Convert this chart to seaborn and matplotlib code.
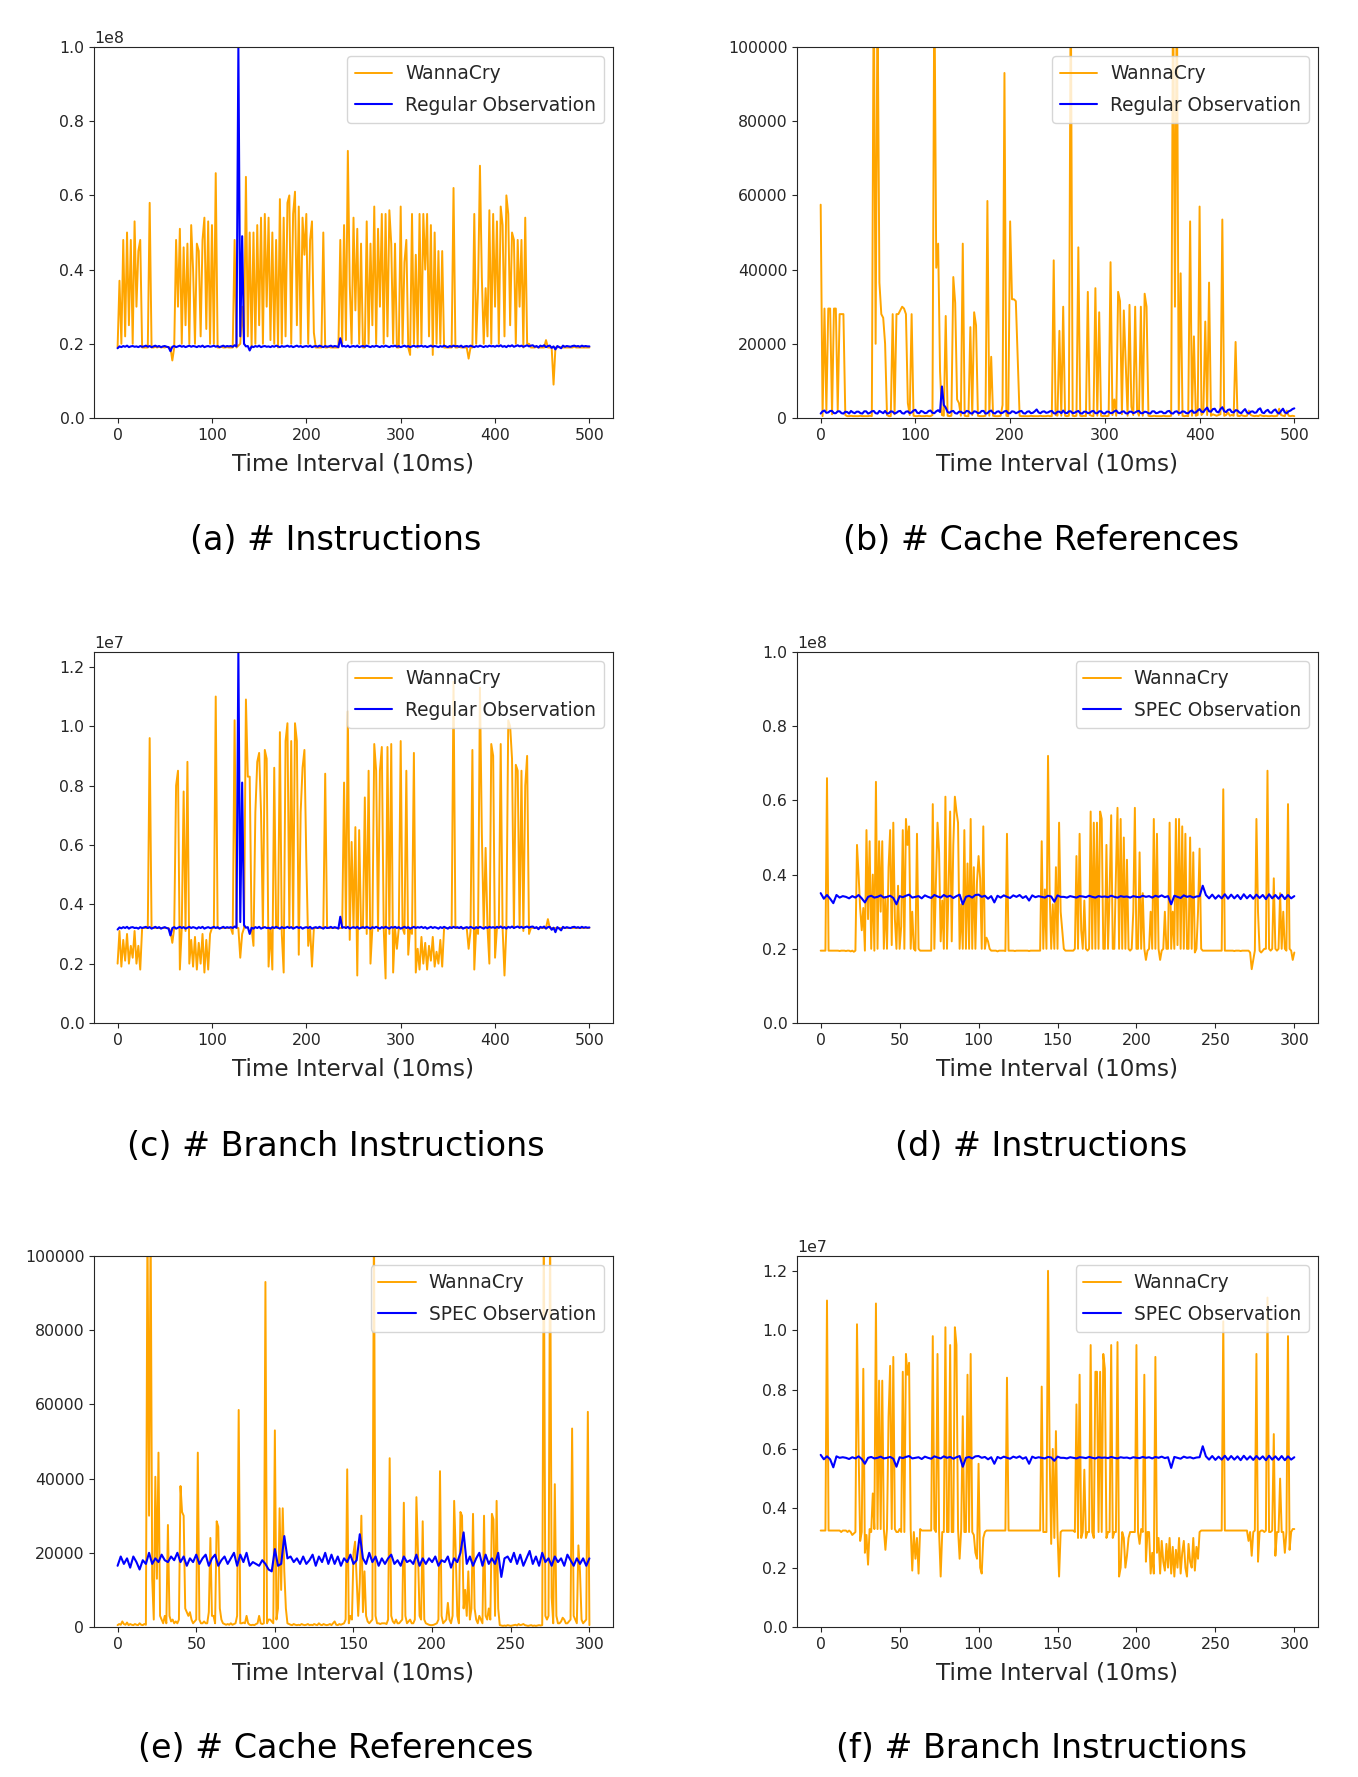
import matplotlib
matplotlib.use("Agg")
import matplotlib.pyplot as plt
import numpy as np
import seaborn as sns

# time index, in 10 ms intervals
t_long = np.arange(0, 501, 2)
t_short = np.arange(0, 301, 1)
t_short_ref = np.arange(0, 301, 2)

# (a) instructions, WannaCry vs regular, in millions
a_wannacry = [
    19, 37, 20, 48, 22, 50, 25, 48, 20, 53,
    30, 45, 48, 19, 19, 19, 19, 58, 19, 19,
    19.2, 19, 19.3, 19, 19.1, 19, 19.2, 19, 19, 15.5,
    19, 48, 30, 51, 20, 46, 25, 47, 20, 52,
    40, 20, 47, 45, 22, 48, 54, 24, 53, 20,
    52, 20, 66, 19, 19, 19.2, 19, 19, 19.1, 19,
    19, 19, 48, 19, 19.5, 20, 30, 20, 65, 22,
    50, 19, 50, 20, 52, 25, 54, 20, 55, 30,
    54, 21, 50, 20, 48, 19, 59, 20, 54, 22,
    58, 60, 20, 55, 61, 25, 57, 20, 54, 44,
    55, 20, 48, 53, 23, 19, 19, 19, 19, 50,
    19, 19, 19.2, 19, 19, 19, 19, 19, 48, 20,
    52, 21, 72, 36, 20, 54, 29, 51, 20, 47,
    19, 19, 53, 20, 47, 25, 57, 20, 51, 30,
    55, 20, 55, 22, 56, 47, 20, 47, 19, 19,
    57, 20, 42, 48, 19, 17, 55, 20, 44, 19,
    55, 20, 55, 40, 55, 22, 52, 17, 50, 20,
    45, 20, 45, 19, 19, 19, 19, 19, 62, 19,
    19, 19.2, 19, 19, 19, 19, 16, 19, 19, 55,
    20, 35, 68, 38, 20, 35, 22, 56, 20, 55,
    30, 53, 20, 57, 52, 22, 60, 55, 25, 50,
    48, 20, 48, 30, 48, 19, 54, 20, 20, 19,
    19, 19, 19.2, 19, 19, 19, 19, 21, 19, 19,
    19, 9, 19, 19, 19.2, 19, 19, 19, 19, 19,
    19, 19, 19.2, 19, 19, 19, 19, 19, 19, 19,
    19,
]
a_regular = [
    18.8, 19.3, 19.1, 19.4, 19.2, 19.5, 19.1, 19.3, 19.4, 19.2,
    19.3, 19.1, 19.4, 19.2, 19.3, 19.5, 19.2, 19.4, 19.1, 19.3,
    19.5, 19.2, 19.4, 19.1, 19.3, 19.4, 19.2, 19.1, 18.0, 19.2,
    19.4, 19.1, 19.3, 19.5, 19.2, 19.4, 19.1, 19.3, 19.5, 19.2,
    19.4, 19.3, 19.1, 19.4, 19.2, 19.5, 19.1, 19.3, 19.4, 19.2,
    19.3, 19.5, 19.2, 19.4, 19.1, 19.3, 19.5, 19.2, 19.4, 19.3,
    19.4, 19.2, 19.6, 19.3, 100, 22, 49, 20, 19.3, 19.4,
    18.2, 19.3, 19.1, 19.4, 19.2, 19.5, 19.1, 19.3, 19.4, 19.2,
    19.3, 19.1, 19.4, 19.2, 19.5, 19.3, 19.1, 19.4, 19.2, 19.3,
    19.5, 19.2, 19.4, 19.1, 19.3, 19.5, 19.2, 19.4, 19.1, 19.3,
    19.4, 19.2, 19.5, 19.1, 19.3, 19.4, 19.2, 19.5, 19.3, 19.1,
    19.4, 19.2, 19.3, 19.5, 19.2, 19.4, 19.3, 19.1, 21.5, 19.3,
    19.4, 19.2, 19.5, 19.1, 19.3, 19.4, 19.2, 19.5, 19.1, 19.3,
    19.4, 19.2, 19.5, 19.3, 19.1, 19.4, 19.2, 19.5, 19.3, 19.1,
    19.4, 19.2, 19.5, 19.3, 19.1, 19.4, 19.3, 19.5, 19.2, 19.4,
    19.1, 19.3, 19.5, 19.2, 19.4, 19.1, 19.3, 19.5, 19.2, 19.4,
    19.3, 19.5, 19.2, 19.4, 19.1, 19.3, 19.5, 19.2, 19.4, 19.3,
    19.1, 19.4, 19.2, 19.5, 19.3, 19.1, 19.4, 19.2, 19.5, 19.3,
    19.4, 19.2, 19.5, 19.1, 19.3, 19.4, 19.2, 19.5, 19.3, 19.1,
    19.4, 19.2, 19.5, 19.3, 19.1, 19.4, 19.2, 19.5, 19.3, 19.4,
    19.2, 19.5, 19.3, 19.6, 19.2, 19.4, 19.1, 19.5, 19.3, 19.6,
    19.2, 19.4, 19.6, 19.3, 19.5, 19.2, 19.4, 19.6, 19.3, 19.5,
    19.6, 19.2, 19.4, 19.0, 19.5, 19.3, 19.6, 19.1, 19.4, 19.5,
    18.9, 19.3, 18.5, 19.4, 19.1, 18.8, 19.5, 19.2, 19.4, 19.3,
    19.2, 19.4, 19.5, 19.3, 19.4, 19.2, 19.5, 19.3, 19.4, 19.3,
    19.3,
]

# (b) cache references, WannaCry vs regular, in thousands
b_wannacry = [
    57.5, 0.5, 29.5, 2, 29.5, 29.5, 1, 29.5, 29.5, 2,
    28, 28, 28, 0.8, 0.5, 0.5, 0.6, 0.5, 0.5, 0.5,
    0.5, 0.6, 0.5, 0.5, 0.5, 0.5, 0.6, 0.5, 120, 20,
    115, 36.5, 28, 27, 20, 0.8, 0.5, 0.5, 28, 1,
    28, 28, 29, 30, 29.5, 28, 4, 0.8, 28, 0.6,
    0.5, 0.5, 0.6, 0.5, 0.5, 0.5, 0.6, 0.5, 0.5, 0.8,
    120, 40.5, 47, 12.6, 0.8, 0.6, 27.5, 0.6, 0.5, 0.6,
    38, 31, 5, 4, 0.6, 47, 0.6, 0.5, 0.5, 24.5,
    0.8, 28.5, 25, 0.6, 0.5, 0.5, 0.5, 0.6, 58.5, 0.6,
    16.5, 0.6, 0.5, 0.5, 0.5, 0.6, 3.5, 93, 0.6, 0.5,
    53, 32, 32, 31.5, 16, 0.6, 0.5, 0.5, 0.5, 0.5,
    0.5, 0.6, 0.5, 0.5, 0.5, 0.5, 0.6, 0.5, 0.5, 0.5,
    0.6, 0.5, 0.5, 42.5, 0.8, 0.6, 23.5, 0.6, 30, 0.6,
    0.5, 0.6, 120, 0.6, 0.5, 0.6, 46, 0.6, 0.5, 0.6,
    0.5, 34, 0.8, 0.6, 0.5, 35, 0.6, 28.5, 0.6, 0.5,
    0.6, 0.5, 0.6, 42, 0.8, 5, 0.6, 34, 31.5, 1,
    29, 15, 0.6, 30.5, 3, 0.8, 30, 2, 0.6, 30,
    0.6, 33.5, 30, 0.6, 0.5, 0.5, 0.6, 0.5, 0.5, 0.5,
    0.5, 0.6, 0.5, 0.5, 0.5, 0.6, 120, 30, 120, 0.8,
    39, 0.6, 0.5, 0.6, 0.5, 53, 0.6, 22, 0.6, 0.8,
    57, 0.8, 1.5, 26, 0.8, 36.5, 0.6, 1, 0.8, 0.6,
    0.8, 1, 53.5, 0.6, 0.8, 1.5, 0.6, 0.8, 0.6, 20.5,
    0.6, 0.5, 0.8, 0.6, 0.5, 0.6, 2, 0.8, 0.6, 0.5,
    0.6, 0.5, 0.8, 0.6, 0.5, 0.6, 0.5, 0.5, 0.6, 0.5,
    0.5, 0.6, 2.5, 0.8, 0.6, 0.5, 2, 0.6, 0.5, 0.6,
    0.5,
]
b_regular = [
    1.2, 1.8, 2.0, 1.4, 1.5, 1.9, 1.9, 1.3, 1.3, 1.8,
    1.8, 1.3, 1.2, 1.7, 1.6, 1.2, 1.9, 1.5, 1.3, 1.7,
    1.7, 1.3, 1.2, 1.8, 1.8, 1.2, 1.4, 1.8, 1.9, 1.3,
    1.2, 1.9, 1.6, 1.3, 1.9, 1.2, 1.3, 1.8, 1.7, 1.2,
    1.4, 1.8, 1.9, 1.3, 1.2, 1.7, 1.8, 1.3, 1.5, 2.0,
    2.2, 1.4, 1.3, 1.9, 1.7, 1.3, 1.4, 1.9, 2.0, 1.4,
    1.3, 1.8, 2.1, 1.6, 8.5, 3.5, 2.8, 1.6, 1.4, 1.8,
    1.9, 1.3, 1.2, 1.7, 1.7, 1.3, 1.4, 1.9, 1.8, 1.3,
    1.2, 1.8, 1.7, 1.3, 1.4, 1.9, 1.9, 1.2, 1.3, 1.8,
    2.0, 1.4, 1.2, 1.7, 1.8, 1.3, 1.4, 1.8, 1.9, 1.3,
    1.3, 1.8, 1.7, 1.3, 1.5, 1.8, 1.9, 1.3, 1.2, 1.7,
    1.8, 1.3, 1.4, 1.8, 2.3, 1.5, 1.3, 1.7, 1.8, 1.4,
    1.5, 1.8, 1.9, 1.3, 1.2, 1.7, 1.7, 1.3, 2.0, 1.4,
    1.3, 1.8, 1.8, 1.3, 1.4, 1.7, 1.9, 1.3, 1.2, 1.7,
    1.7, 1.3, 1.4, 1.8, 1.9, 1.3, 1.3, 1.8, 1.8, 1.3,
    1.2, 1.7, 1.7, 1.3, 1.4, 1.8, 2.0, 1.4, 1.3, 1.7,
    1.8, 1.3, 1.2, 1.7, 1.7, 1.3, 1.5, 1.8, 1.9, 1.3,
    1.3, 1.7, 1.6, 1.3, 1.2, 1.8, 1.8, 1.3, 1.4, 1.7,
    1.7, 1.3, 1.3, 1.8, 1.9, 1.3, 1.2, 1.7, 1.8, 1.3,
    1.4, 1.8, 1.7, 1.3, 1.3, 1.8, 2.0, 1.4, 1.5, 2.0,
    2.4, 1.7, 1.6, 2.3, 2.8, 1.8, 1.7, 2.4, 2.5, 1.7,
    1.5, 2.4, 2.9, 1.8, 1.6, 2.2, 2.3, 1.6, 1.5, 2.1,
    2.0, 1.5, 1.3, 1.9, 2.4, 1.5, 1.2, 1.7, 1.8, 1.4,
    1.5, 2.3, 2.6, 1.5, 1.3, 1.9, 2.2, 1.5, 1.4, 2.0,
    2.3, 1.5, 1.2, 1.9, 2.5, 1.5, 1.3, 1.8, 2.0, 2.4,
    2.6,
]

# (c) branch instructions, WannaCry vs regular, in millions
c_wannacry = [
    2.0, 3.1, 1.9, 2.8, 2.1, 3.0, 2.0, 2.6, 2.2, 3.1,
    2.0, 2.6, 1.8, 3.2, 3.2, 3.2, 3.2, 9.6, 3.2, 3.2,
    3.2, 3.2, 3.2, 3.2, 3.2, 3.2, 3.2, 3.2, 3.1, 2.7,
    3.2, 8.0, 8.5, 1.8, 3.2, 7.8, 3.1, 8.8, 2.0, 2.8,
    1.9, 2.9, 1.8, 2.7, 2.0, 3.0, 1.7, 2.8, 1.8, 3.0,
    3.2, 3.2, 11.0, 3.2, 3.2, 3.2, 3.2, 3.2, 3.2, 3.2,
    3.2, 3.0, 10.2, 3.2, 3.2, 2.2, 3.0, 3.2, 10.9, 8.3,
    8.3, 3.2, 2.6, 7.1, 8.8, 9.1, 7.1, 3.2, 9.2, 8.9,
    1.9, 3.2, 1.8, 8.6, 3.2, 3.2, 9.8, 3.0, 1.7, 9.5,
    10.1, 3.2, 9.5, 3.2, 10.1, 9.5, 2.3, 7.1, 8.6, 9.2,
    5.5, 2.6, 3.2, 1.9, 3.2, 3.2, 3.2, 3.2, 3.2, 3.2,
    8.4, 3.2, 3.2, 3.2, 3.2, 3.2, 3.2, 3.2, 3.2, 3.2,
    8.1, 3.2, 10.5, 2.8, 6.1, 3.2, 6.6, 1.6, 6.5, 3.2,
    3.2, 7.6, 3.0, 8.5, 2.0, 3.2, 9.4, 8.5, 3.1, 8.5,
    9.3, 3.2, 1.5, 9.3, 3.0, 9.4, 1.7, 3.2, 2.5, 3.2,
    9.5, 3.2, 3.0, 8.5, 2.3, 3.2, 3.0, 9.1, 1.7, 2.5,
    1.8, 2.9, 2.0, 2.7, 1.8, 2.6, 2.1, 2.9, 1.9, 2.4,
    2.0, 2.8, 1.9, 3.2, 3.2, 3.2, 3.2, 3.2, 11.5, 3.2,
    3.2, 3.2, 3.2, 3.2, 3.2, 3.2, 2.5, 3.1, 9.2, 1.8,
    3.2, 3.0, 11.3, 6.4, 3.2, 5.9, 3.2, 2.0, 9.4, 9.0,
    2.2, 3.2, 3.2, 9.4, 3.2, 1.6, 3.2, 10.2, 10.0, 8.9,
    3.2, 8.7, 8.5, 3.2, 8.5, 3.1, 8.0, 9.0, 3.0, 3.2,
    3.2, 3.2, 3.2, 3.2, 3.2, 3.2, 3.2, 3.2, 3.5, 3.2,
    3.2, 3.2, 3.2, 3.2, 3.2, 3.2, 3.2, 3.2, 3.2, 3.2,
    3.2, 3.2, 3.2, 3.2, 3.2, 3.2, 3.2, 3.2, 3.2, 3.2,
    3.2,
]
c_regular = [
    3.15, 3.22, 3.19, 3.23, 3.2, 3.24, 3.18, 3.22, 3.23, 3.2,
    3.21, 3.18, 3.23, 3.2, 3.22, 3.24, 3.2, 3.23, 3.18, 3.21,
    3.24, 3.2, 3.23, 3.18, 3.21, 3.23, 3.2, 3.18, 2.95, 3.2,
    3.23, 3.18, 3.21, 3.24, 3.2, 3.23, 3.18, 3.21, 3.24, 3.2,
    3.23, 3.21, 3.18, 3.23, 3.2, 3.24, 3.18, 3.21, 3.23, 3.2,
    3.21, 3.24, 3.2, 3.23, 3.18, 3.21, 3.24, 3.2, 3.23, 3.21,
    3.23, 3.2, 3.25, 3.21, 12.5, 3.4, 8.1, 3.3, 3.21, 3.23,
    3.0, 3.21, 3.18, 3.23, 3.2, 3.24, 3.18, 3.21, 3.23, 3.2,
    3.21, 3.18, 3.23, 3.2, 3.24, 3.21, 3.18, 3.23, 3.2, 3.21,
    3.24, 3.2, 3.23, 3.18, 3.21, 3.24, 3.2, 3.23, 3.18, 3.21,
    3.23, 3.2, 3.24, 3.18, 3.21, 3.23, 3.2, 3.24, 3.21, 3.18,
    3.23, 3.2, 3.21, 3.24, 3.2, 3.23, 3.21, 3.18, 3.58, 3.21,
    3.23, 3.2, 3.24, 3.18, 3.21, 3.23, 3.2, 3.24, 3.18, 3.21,
    3.23, 3.2, 3.24, 3.21, 3.18, 3.23, 3.2, 3.24, 3.21, 3.18,
    3.23, 3.2, 3.24, 3.21, 3.18, 3.23, 3.21, 3.24, 3.2, 3.23,
    3.18, 3.21, 3.24, 3.2, 3.23, 3.18, 3.21, 3.24, 3.2, 3.23,
    3.21, 3.24, 3.2, 3.23, 3.18, 3.21, 3.24, 3.2, 3.23, 3.21,
    3.18, 3.23, 3.2, 3.24, 3.21, 3.18, 3.23, 3.2, 3.24, 3.21,
    3.23, 3.2, 3.24, 3.18, 3.21, 3.23, 3.2, 3.24, 3.21, 3.18,
    3.23, 3.2, 3.24, 3.21, 3.18, 3.23, 3.2, 3.24, 3.21, 3.23,
    3.2, 3.24, 3.21, 3.25, 3.2, 3.23, 3.18, 3.24, 3.21, 3.25,
    3.2, 3.23, 3.25, 3.21, 3.24, 3.2, 3.23, 3.25, 3.21, 3.24,
    3.25, 3.2, 3.23, 3.16, 3.24, 3.21, 3.25, 3.18, 3.23, 3.24,
    3.14, 3.21, 3.06, 3.23, 3.18, 3.12, 3.24, 3.2, 3.23, 3.21,
    3.2, 3.23, 3.24, 3.21, 3.23, 3.2, 3.24, 3.21, 3.23, 3.21,
    3.22,
]

# (d) instructions, WannaCry vs SPEC, in millions
d_wannacry = [
    19.5, 19.5, 19.5, 19.5, 66, 19.5, 19.5, 19.5, 19.5, 19.5,
    19.5, 19.5, 19.4, 19.5, 19.5, 19.5, 19.4, 19.5, 19.5, 19.3,
    19.5, 19.2, 19.5, 48, 40, 31, 25, 31, 19.5, 52,
    28, 49, 20, 40, 19.5, 65, 20, 49, 30, 49,
    20, 34, 20, 42, 52, 21, 54, 28, 20, 37,
    20, 26, 52, 20, 55, 48, 53, 20, 30, 20,
    19.5, 51, 20, 19.5, 19.5, 19.5, 19.5, 19.5, 19.5, 19.5,
    19.5, 59, 20, 38, 54, 46, 22, 33, 20, 61,
    20, 36, 57, 22, 48, 61, 57, 54, 20, 32,
    20, 52, 20, 43, 20, 55, 20, 42, 20, 38,
    45, 39, 20, 53, 20, 23, 22, 20, 19.5, 19.5,
    19.5, 19.5, 19.3, 19.5, 19.5, 19.5, 19.5, 19.4, 51, 19.5,
    19.5, 19.5, 19.5, 19.4, 19.5, 19.5, 19.5, 19.5, 19.5, 19.5,
    19.5, 19.5, 19.4, 19.5, 19.5, 19.5, 19.5, 19.5, 19.5, 19.5,
    49, 20, 36, 20, 72, 36, 20, 32, 20, 42,
    20, 54, 30, 25, 20, 19.5, 19.5, 19.5, 19.5, 19.5,
    19.5, 20, 45, 20, 51, 25, 20, 33, 20, 19.5,
    20, 57, 20, 54, 20, 54, 20, 57, 55, 20,
    20, 48, 20, 35, 56, 20, 20, 40, 58, 20,
    55, 20, 50, 20, 44, 20, 19.5, 20, 30, 58,
    20, 20, 46, 20, 35, 20, 17, 19.5, 20, 30,
    20, 55, 20, 51, 20, 17, 19.5, 20, 30, 20,
    20, 54, 20, 30, 20, 55, 21, 55, 20, 53,
    20, 51, 20, 20, 50, 20, 46, 19, 20, 30,
    47, 20, 19.5, 19.5, 19.5, 19.5, 19.5, 19.5, 19.5, 19.5,
    19.5, 19.5, 19.5, 19.5, 19.5, 63, 19.5, 19.5, 19.5, 19.5,
    19.5, 19.5, 19.4, 19.5, 19.5, 19.5, 19.4, 19.5, 19.5, 19.5,
    19.5, 19.5, 19, 14.5, 17, 19.5, 55, 30, 19.5, 19,
    19.5, 20, 20, 68, 20, 19.5, 20, 39, 20, 19.5,
    20, 35, 20, 30, 20, 19.5, 59, 20, 19.5, 17,
    19,
]
d_spec = [
    35, 33.5, 34.5, 33.5, 32.3, 34.5, 33.8, 34.2, 34, 33.6,
    34.2, 33.8, 34.5, 33.6, 32.5, 34, 34.3, 33.8, 34, 34.4,
    33.8, 34, 34.3, 33.7, 32, 34.2, 33.9, 34.3, 34.6, 33.8,
    34, 34.2, 33.6, 34.4, 34, 33.7, 34.5, 34.1, 33.8, 34.5,
    34, 34.3, 33.7, 34.2, 34.6, 32, 34, 34.3, 33.8, 34.5,
    34.6, 34, 34.3, 33.5, 34.2, 32.5, 34.3, 33.8, 34.4, 34,
    33.7, 34.4, 34, 34.5, 33.7, 34.2, 33, 34.4, 33.9, 34.2,
    34, 33.8, 34.3, 34.1, 32.7, 34.4, 34, 34, 33.8, 34.2,
    34, 33.8, 34.2, 34.1, 33.9, 34.3, 34, 33.8, 34.2, 34,
    34.1, 33.9, 34.3, 34, 33.8, 34.2, 34, 34.1, 33.8, 34.2,
    34, 33.9, 34.3, 34, 34.2, 33.8, 34.3, 34, 34.4, 33.9,
    34.2, 32, 34.3, 34, 33.7, 34.4, 34, 34.2, 33.8, 34.1,
    34.2, 37, 34.5, 33.6, 34.6, 33.5, 34.4, 33.6, 34.7, 33.5,
    34.6, 33.6, 34.5, 33.4, 34.7, 33.6, 34.5, 33.5, 34.6, 33.7,
    34.5, 33.4, 34.7, 33.6, 34.5, 33.5, 34.6, 33.4, 34.5, 33.6,
    34.2,
]

# (e) cache references, WannaCry vs SPEC, in thousands
e_wannacry = [
    0.5, 0.8, 0.6, 1.5, 0.8, 0.6, 1.2, 0.5, 0.8, 0.6,
    0.5, 0.8, 0.6, 0.5, 1, 0.6, 0.5, 0.8, 0.6, 110,
    30, 110, 13, 2, 40.5, 13, 47, 3, 2, 1,
    3, 1, 27.5, 3, 1.5, 2, 1, 1.5, 1, 2,
    38, 31, 30, 5, 4, 3, 4, 2, 1, 1.5,
    2, 47, 2, 1, 1, 1.5, 1, 1, 4, 24,
    3, 3, 1, 28.5, 27, 5, 2, 1, 0.8, 0.6,
    0.8, 0.6, 1, 0.6, 0.8, 1, 3, 58.5, 1, 1,
    1.2, 1, 3, 1, 0.6, 0.5, 0.6, 0.5, 0.8, 1,
    3, 1, 0.8, 1, 93, 1, 2, 2, 1.5, 1,
    53, 2, 5, 32, 10, 32, 15, 5, 1, 0.8,
    0.6, 0.5, 0.8, 0.6, 0.5, 0.6, 0.5, 0.8, 0.6, 0.5,
    0.6, 0.8, 0.5, 0.6, 0.5, 0.8, 0.6, 0.5, 1, 0.6,
    0.5, 0.8, 0.6, 0.5, 0.6, 0.8, 0.5, 1, 1.5, 0.6,
    0.5, 0.8, 0.6, 0.8, 1, 2, 42.5, 1, 3, 2,
    20, 23, 13, 3, 12, 30, 4, 15, 3, 1.5,
    1, 1.5, 2, 110, 3, 1, 1, 0.8, 1, 1,
    1, 0.8, 2, 45.5, 3, 1.5, 1, 2, 1, 1,
    1.5, 2, 33.5, 3, 1, 1.5, 2, 1, 1, 2,
    35, 20, 3, 2, 28.5, 2, 1, 0.8, 0.6, 0.5,
    0.5, 0.6, 0.8, 1, 2, 42, 3, 1, 1.5, 2,
    6.5, 2, 1, 3, 34, 20, 3, 1, 31, 30,
    5, 10, 3, 15, 2, 5, 30.5, 5, 2, 1,
    3, 2, 1, 30, 3, 2, 5, 2, 30.5, 29,
    3, 34, 5, 0.5, 0.4, 0.3, 0.4, 0.3, 0.5, 0.4,
    0.3, 0.4, 0.5, 0.6, 0.4, 0.8, 0.5, 0.6, 0.8, 0.5,
    0.4, 0.3, 0.4, 0.5, 0.3, 0.4, 0.3, 0.4, 0.5, 0.4,
    0.5, 110, 3, 2, 3, 110, 8, 1, 38.5, 3,
    1, 1, 1.5, 2.5, 2, 1, 1, 1.5, 2, 53.5,
    3, 2, 1, 22, 15, 2, 1, 1.5, 2, 58,
    0.5,
]
e_spec = [
    16.5, 19, 17, 18.5, 16, 19, 17.5, 15.5, 18, 17,
    20, 17, 18.5, 17.5, 19.5, 18, 17.5, 19, 18, 20,
    17.5, 19, 16.5, 18.5, 17.5, 19.5, 17, 18.5, 19.5, 16.5,
    18.5, 19.5, 16.5, 18, 19, 17, 18.5, 20, 16.5, 19.5,
    17.5, 20, 16.5, 17.5, 17, 16.5, 18, 17, 15.5, 15,
    21, 16.5, 17, 24.5, 18.5, 19, 17.5, 18.5, 17, 19,
    17, 18, 19.5, 16.5, 19, 17.5, 20, 17, 19.5, 17,
    19, 16.5, 18.5, 17.5, 19.5, 17, 18, 25, 18.5, 17,
    20, 17.5, 19, 16.5, 18.5, 17, 18.5, 19.5, 17, 18,
    16.5, 19, 17.5, 18, 17, 19.5, 16.5, 18.5, 17, 18.5,
    17.5, 19, 16.5, 18, 17.5, 19, 16, 18.5, 17.5, 20,
    25.5, 17, 19, 16.5, 18.5, 20, 16.5, 19.5, 17, 18.5,
    17, 20, 13.5, 18.5, 19, 17.5, 20, 17, 19.5, 16.5,
    18.5, 20.5, 17, 19, 16.5, 20, 17.5, 18.5, 16.5, 19,
    17.5, 18.5, 16.5, 19.5, 18, 16.5, 18.5, 17, 18.5, 16.5,
    18.5,
]

# (f) branch instructions, WannaCry vs SPEC, in millions
f_wannacry = [
    3.25, 3.25, 3.25, 3.25, 11.0, 3.25, 3.25, 3.25, 3.25, 3.25,
    3.25, 3.25, 3.25, 3.2, 3.25, 3.25, 3.25, 3.2, 3.25, 3.2,
    3.1, 3.15, 3.2, 10.2, 6, 2.9, 3.2, 8.7, 2.5, 3.1,
    2.1, 3.3, 3.2, 4.5, 3.3, 10.9, 3.3, 8.3, 3.3, 8.3,
    3.3, 2.6, 3.3, 7.1, 8.8, 3.3, 9.1, 3.3, 3.2, 3.2,
    3.3, 3.2, 8.6, 3.2, 9.2, 8.5, 8.9, 3.3, 1.9, 3.2,
    2.3, 3.0, 1.8, 3.3, 3.25, 3.25, 3.25, 3.25, 3.25, 3.25,
    3.25, 9.8, 3.3, 3.2, 9.2, 3.2, 1.7, 3.2, 3.2, 10.1,
    3.2, 3.2, 9.5, 3.2, 3.2, 10.1, 9.5, 3.3, 2.3, 3.3,
    7.1, 3.2, 3.2, 8.5, 3.2, 9.2, 3.2, 3.1, 2.5, 2.3,
    5.5, 2.0, 1.8, 3.0, 3.2, 3.25, 3.25, 3.25, 3.25, 3.25,
    3.25, 3.25, 3.25, 3.25, 3.25, 3.25, 3.25, 3.25, 8.4, 3.25,
    3.25, 3.25, 3.25, 3.25, 3.25, 3.25, 3.25, 3.25, 3.25, 3.25,
    3.25, 3.25, 3.25, 3.25, 3.25, 3.25, 3.25, 3.25, 3.25, 3.25,
    8.1, 3.2, 3.2, 3.2, 12.0, 5.9, 2.8, 6.0, 3.0, 6.6,
    3.2, 1.7, 3.2, 3.25, 3.25, 3.25, 3.25, 3.25, 3.25, 3.25,
    3.25, 3.2, 7.5, 3.0, 8.5, 3.0, 3.2, 5.3, 3.0, 3.2,
    3.2, 9.5, 3.2, 3.0, 8.6, 8.6, 3.2, 8.6, 3.2, 9.2,
    8.7, 3.0, 3.2, 3.2, 9.5, 3.0, 3.2, 3.2, 9.6, 1.7,
    2.0, 3.2, 3.0, 2.0, 2.4, 3.0, 3.2, 3.2, 3.2, 3.2,
    9.5, 3.2, 2.8, 3.3, 3.2, 8.5, 2.2, 3.2, 3.2, 1.8,
    2.5, 1.8, 9.1, 2.5, 3.0, 1.8, 2.9, 2.2, 1.9, 2.8,
    2.0, 3.0, 1.8, 2.7, 1.7, 2.6, 2.0, 3.0, 1.8, 2.5,
    2.9, 2.0, 1.7, 2.8, 2.2, 2.0, 3.0, 1.9, 2.7, 2.3,
    3.2, 3.25, 3.25, 3.25, 3.25, 3.25, 3.25, 3.25, 3.25, 3.25,
    3.25, 3.25, 3.25, 3.25, 3.25, 10.3, 3.25, 3.25, 3.25, 3.25,
    3.25, 3.25, 3.25, 3.25, 3.25, 3.25, 3.25, 3.25, 3.25, 3.25,
    3.25, 2.9, 3.2, 2.4, 3.2, 3.25, 9.2, 2.2, 3.2, 3.25,
    3.25, 3.2, 3.25, 11.1, 3.2, 3.2, 3.25, 6.5, 2.4, 3.2,
    3.2, 5.0, 3.2, 3.2, 2.5, 3.2, 9.8, 2.6, 3.2, 3.3,
    3.3,
]
f_spec = [
    5.8, 5.65, 5.75, 5.65, 5.38, 5.75, 5.7, 5.72, 5.7, 5.66,
    5.72, 5.68, 5.75, 5.66, 5.5, 5.7, 5.73, 5.68, 5.7, 5.74,
    5.68, 5.7, 5.73, 5.67, 5.4, 5.72, 5.69, 5.73, 5.76, 5.68,
    5.7, 5.72, 5.66, 5.74, 5.7, 5.67, 5.75, 5.71, 5.68, 5.75,
    5.7, 5.73, 5.67, 5.72, 5.76, 5.4, 5.7, 5.73, 5.68, 5.75,
    5.76, 5.7, 5.73, 5.65, 5.72, 5.5, 5.73, 5.68, 5.74, 5.7,
    5.67, 5.74, 5.7, 5.75, 5.67, 5.72, 5.5, 5.74, 5.69, 5.72,
    5.7, 5.68, 5.73, 5.71, 5.6, 5.74, 5.7, 5.7, 5.68, 5.72,
    5.7, 5.68, 5.72, 5.71, 5.69, 5.73, 5.7, 5.68, 5.72, 5.7,
    5.71, 5.69, 5.73, 5.7, 5.68, 5.72, 5.7, 5.71, 5.68, 5.72,
    5.7, 5.69, 5.73, 5.7, 5.72, 5.68, 5.73, 5.7, 5.74, 5.69,
    5.72, 5.36, 5.73, 5.7, 5.67, 5.74, 5.7, 5.72, 5.68, 5.71,
    5.72, 6.09, 5.75, 5.64, 5.76, 5.63, 5.74, 5.64, 5.77, 5.63,
    5.76, 5.64, 5.75, 5.62, 5.77, 5.64, 5.75, 5.63, 5.76, 5.65,
    5.75, 5.62, 5.77, 5.64, 5.75, 5.63, 5.76, 5.62, 5.75, 5.64,
    5.72,
]

captions = [
    "(a) # Instructions", "(b) # Cache References",
    "(c) # Branch Instructions", "(d) # Instructions",
    "(e) # Cache References", "(f) # Branch Instructions",
]

W, H = 1358, 1777


def main() -> None:
    sns.set_style("ticks")
    plt.rcParams["font.family"] = ["DejaVu Sans"]
    plt.rcParams["xtick.labelsize"] = 11.3
    plt.rcParams["ytick.labelsize"] = 11.3

    panels = [
        (t_long, a_wannacry, t_long, a_regular, 1e6, 1e8, "Regular Observation"),
        (t_long, b_wannacry, t_long, b_regular, 1e3, 1e5, "Regular Observation"),
        (t_long, c_wannacry, t_long, c_regular, 1e6, 1.25e7, "Regular Observation"),
        (t_short, d_wannacry, t_short_ref, d_spec, 1e6, 1e8, "SPEC Observation"),
        (t_short, e_wannacry, t_short_ref, e_spec, 1e3, 1e5, "SPEC Observation"),
        (t_short, f_wannacry, t_short_ref, f_spec, 1e6, 1.25e7, "SPEC Observation"),
    ]

    fig = plt.figure(figsize=(W / 100, H / 100), dpi=100)
    col_left = [(94, 519), (797, 521)]
    row_top = [47, 652, 1256]
    cap_x = [336, 1041]
    cap_y = [541, 1146, 1749]

    for i, (t, wanna, t_ref, ref, unit, ymax, ref_label) in enumerate(panels):
        row, col = divmod(i, 2)
        x0, w = col_left[col]
        ax = fig.add_axes([x0 / W, 1 - (row_top[row] + 371) / H, w / W, 371 / H])
        assert len(t) == len(wanna), (i, len(t), len(wanna))
        assert len(t_ref) == len(ref), (i, len(t_ref), len(ref))
        sns.lineplot(x=t, y=np.asarray(wanna) * unit, ax=ax, color="orange",
                     linewidth=1.4, label="WannaCry")
        sns.lineplot(x=t_ref, y=np.asarray(ref) * unit, ax=ax, color="blue",
                     linewidth=1.5, label=ref_label)
        ax.set_ylim(0, ymax)
        ax.margins(x=0.05)
        ax.set_xlabel("Time Interval (10ms)", fontsize=16.7, labelpad=7)
        ax.set_ylabel("")
        ax.legend(loc="upper right", fontsize=13.4, frameon=True,
                  labelspacing=0.68, borderpad=0.42, handletextpad=0.7)
        fig.text(cap_x[col] / W, 1 - cap_y[row] / H, captions[i],
                 ha="center", va="center", fontsize=24, color="black")

    fig.savefig("out.png", dpi=100)
    plt.close(fig)


if __name__ == "__main__":
    main()
